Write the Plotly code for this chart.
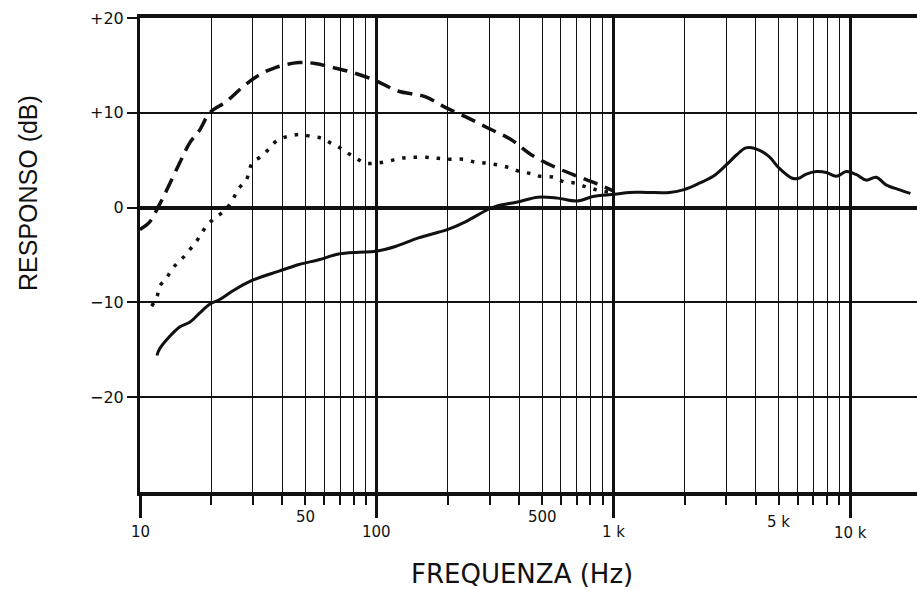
import math
import plotly.graph_objects as go

# ---- data ----
solid_f = [11.8, 12.1, 14.7, 16.2, 17.9, 19.7, 21.7, 24.6, 29, 38.7, 47, 57, 69, 84, 99,
           120, 150, 182, 200, 237, 295, 325, 394, 480, 581, 705, 829, 1010, 1175, 1385,
           1730, 1990, 2320, 2640, 3000, 3330, 3630, 4000, 4540, 5000, 5700, 6080, 6500,
           7200, 7950, 8750, 9650, 10600, 11700, 12900, 14200, 16100, 18000]
solid_db = [-15.6, -14.9, -12.6, -12.1, -11.1, -10.2, -9.7, -8.8, -7.8, -6.7, -6.0, -5.5, -4.9, -4.7, -4.6,
            -4.1, -3.2, -2.6, -2.3, -1.5, -0.2, 0.2, 0.6, 1.1, 1.0, 0.7, 1.2, 1.4, 1.6, 1.6,
            1.6, 1.9, 2.6, 3.3, 4.5, 5.6, 6.3, 6.2, 5.4, 4.2, 3.1, 3.1, 3.5,
            3.8, 3.7, 3.3, 3.8, 3.5, 2.9, 3.2, 2.4, 1.9, 1.5]

dashed_f = [10, 11, 11.9, 13, 14.7, 16.2, 17.9, 19.7, 23.2, 27.1, 31.9, 37.6, 46.9, 55, 64.6,
            78, 99, 123, 160, 194, 237, 295, 368, 448, 564, 705, 855, 1010]
dashed_db = [-2.3, -1.5, 0, 1.9, 4.7, 6.8, 8.2, 10, 11.2, 12.7, 14, 14.8, 15.3, 15.2, 14.8,
             14.3, 13.4, 12.3, 11.7, 10.6, 9.6, 8.4, 7.2, 5.6, 4.3, 3.3, 2.5, 1.7]

dotted_f = [11.2, 11.8, 12.1, 12.9, 13.5, 14.3, 15.3, 16.4, 17.4, 18.2, 19.3, 20.7, 22.3, 23.9,
            26.3, 28.1, 29.8, 32.5, 35.1, 37.6, 41.8, 47, 53.3, 58.7, 64, 69, 75, 82, 89.5, 100,
            112, 126, 140, 162, 182, 205, 232, 261, 290, 325, 365, 402, 445, 490, 564, 620,
            685, 765, 840, 915, 1010]
dotted_db = [-10.4, -9.4, -8.3, -7.5, -6.7, -5.9, -5.2, -4.3, -3.5, -2.7, -1.8, -1.1, -0.5, 0.3,
             2.1, 2.9, 4.7, 5.4, 6.2, 7.0, 7.5, 7.7, 7.5, 7.3, 6.8, 6.4, 5.8, 5.2, 4.7, 4.7,
             4.9, 5.2, 5.3, 5.3, 5.2, 5.1, 5.1, 4.8, 4.7, 4.5, 4.2, 3.8, 3.6, 3.3, 3.2, 2.7,
             2.6, 2.2, 1.9, 1.7, 1.6]

y_tick_vals = [20, 10, 0, -10, -20]
y_tick_text = ["+20", "+10", "0", "\u221210", "\u221220"]

x_major_vals = [10, 100, 1000, 10000]
x_minor_vals = [20, 30, 40, 50, 60, 70, 80, 90,
                200, 300, 400, 500, 600, 700, 800, 900,
                2000, 3000, 4000, 5000, 6000, 7000, 8000, 9000]

x_label_vals = [10, 50, 100, 500, 1000, 5000, 10000]
x_label_text = ["10", "50", "100", "500", "1 k", "5 k", "10 k"]
x_label_ypos = [-0.084, -0.053, -0.084, -0.053, -0.084, -0.063, -0.086]

x_title = "FREQUENZA (Hz)"
y_title = "RESPONSO (dB)"

INK = "#111111"

fig = go.Figure()
fig.add_trace(go.Scatter(x=dashed_f, y=dashed_db, mode="lines",
                         line=dict(color=INK, width=3.5, dash="15px,8px"),
                         line_shape="spline", showlegend=False, hoverinfo="skip"))
fig.add_trace(go.Scatter(x=dotted_f, y=dotted_db, mode="lines",
                         line=dict(color=INK, width=3.5, dash="3.5px,8px"),
                         line_shape="spline", showlegend=False, hoverinfo="skip"))
fig.add_trace(go.Scatter(x=solid_f, y=solid_db, mode="lines",
                         line=dict(color=INK, width=3),
                         line_shape="spline", showlegend=False, hoverinfo="skip"))

annotations = []
for v, t, yp in zip(x_label_vals, x_label_text, x_label_ypos):
    annotations.append(dict(x=math.log10(v), y=yp, xref="x", yref="paper",
                            text=t, showarrow=False, xanchor="center", yanchor="middle",
                            font=dict(family="DejaVu Sans", size=15, color=INK)))
annotations.append(dict(x=0.4916, y=-0.172, xref="paper", yref="paper", text=x_title,
                        showarrow=False, xanchor="center", yanchor="middle",
                        font=dict(family="DejaVu Sans", size=26, color=INK)))
annotations.append(dict(x=-0.144, y=0.631, xref="paper", yref="paper", text=y_title,
                        showarrow=False, textangle=-90, xanchor="center", yanchor="middle",
                        font=dict(family="Liberation Sans", size=25, color=INK)))

fig.update_layout(
    width=917, height=590,
    margin=dict(l=140, r=0, t=18, b=98),
    paper_bgcolor="white", plot_bgcolor="white",
    annotations=annotations,
    xaxis=dict(
        type="log", range=[1, 4.283],
        tickvals=x_major_vals, showticklabels=False,
        showgrid=True, gridcolor=INK, gridwidth=2.5,
        ticks="outside", ticklen=22, tickwidth=2.5, tickcolor=INK,
        showline=True, linecolor=INK, linewidth=3.5, mirror=True,
        zeroline=False,
        minor=dict(tickvals=x_minor_vals, showgrid=True, gridcolor=INK, gridwidth=1.2,
                   ticks="outside", ticklen=9, tickwidth=1.5, tickcolor=INK),
    ),
    yaxis=dict(
        range=[-30, 20], tickvals=y_tick_vals, ticktext=y_tick_text,
        showgrid=True, gridcolor=INK, gridwidth=1.6,
        ticks="outside", ticklen=10, tickwidth=1.6, tickcolor=INK,
        tickfont=dict(family="DejaVu Sans", size=16, color=INK),
        showline=True, linecolor=INK, linewidth=3,
        zeroline=True, zerolinecolor=INK, zerolinewidth=3.5,
    ),
)

fig.write_html(
    "out.html",
    config={"displayModeBar": False},
    post_script="document.body.style.margin='0';document.body.style.padding='0';"
                "document.documentElement.style.overflow='hidden';",
)
